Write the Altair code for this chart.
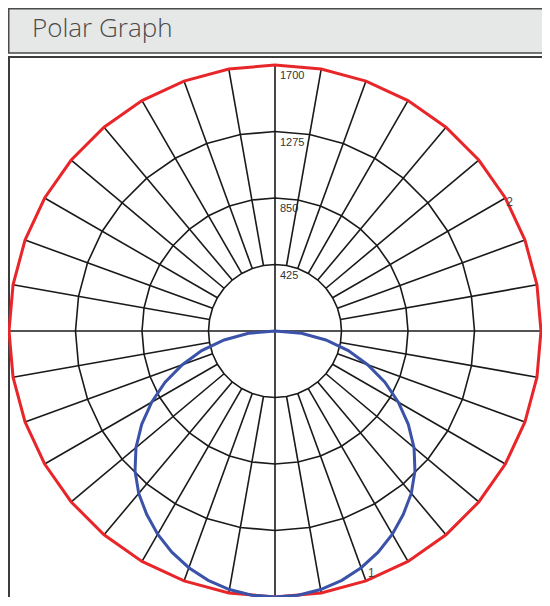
import altair as alt
import pandas as pd

# ---- data ----
ring_radii = [425, 850, 1275]
ring_angles = [0, 10, 20, 30, 40, 50, 60, 70, 80, 90, 100, 110, 120, 130, 140, 150, 160, 170, 180,
               190, 200, 210, 220, 230, 240, 250, 260, 270, 280, 290, 300, 310, 320, 330, 340, 350, 360]

spoke_angles = [0, 90, 10, 20, 30, 40, 50, 60, 70, 80, 100, 110, 120, 130, 140, 150, 160, 170,
                190, 200, 210, 220, 230, 240, 250, 260, 280, 290, 300, 310, 320, 330, 340, 350]
spoke_inner = [-1700, -1700] + [425] * 32
spoke_outer = [1700] * 34

# curve 2 (red) - gamma from nadir, cd values
red_gamma = ring_angles
red_values = [1700, 1700, 1700, 1700, 1700, 1700, 1700, 1700, 1700, 1700, 1700, 1700, 1700,
              1700, 1700, 1700, 1700, 1700, 1700, 1700, 1700, 1700, 1700, 1700, 1700, 1700,
              1700, 1700, 1700, 1700, 1700, 1700, 1700, 1700, 1700, 1700, 1700]

# curve 1 (blue)
blue_gamma = [-90, -85, -80, -75, -70, -65, -60, -55, -50, -45, -40, -35, -30, -25, -20, -15, -10, -5,
              0, 5, 10, 15, 20, 25, 30, 35, 40, 45, 50, 55, 60, 65, 70, 75, 80, 85, 90]
blue_values = [0, 170, 330, 485, 630, 775, 910, 1040, 1160, 1265, 1355, 1430, 1500, 1560, 1610, 1650, 1678, 1695,
               1700, 1695, 1678, 1650, 1610, 1560, 1500, 1430, 1355, 1265, 1160, 1040, 910, 775, 630, 485, 330, 170, 0]

tick_values = [425, 850, 1275, 1700]
tick_labels = ["425", "850", "1275", "1700"]

curve_labels = ["1", "2"]
curve_label_gamma = [20, 120]

# ---- tables ----
rings_df = pd.DataFrame([{"ring": r, "a": a, "r": r} for r in ring_radii for a in ring_angles])
spokes_df = pd.DataFrame({"a": spoke_angles, "r0": spoke_inner, "r1": spoke_outer})
red_df = pd.DataFrame({"a": red_gamma, "r": red_values})
blue_df = pd.DataFrame({"a": blue_gamma, "r": blue_values})
ticks_df = pd.DataFrame({"r": tick_values, "label": tick_labels})
lab_df = pd.DataFrame({"a": curve_label_gamma, "label": curve_labels})
one_df = pd.DataFrame({"k": [0]})

sc = alt.Scale(domain=[-1700, 1700], nice=False, zero=False)
X = alt.X("x:Q", scale=sc, axis=None)
Y = alt.Y("y:Q", scale=sc, axis=None)
XY_CALC = dict(x="datum.r*sin(datum.a*PI/180)", y="-datum.r*cos(datum.a*PI/180)")

frame = alt.Chart(one_df).mark_rect(fill="white", stroke="#3c3c3c", strokeWidth=2).encode(
    x=alt.value(0), x2=alt.value(620), y=alt.value(-8), y2=alt.value(620))
title_box = alt.Chart(one_df).mark_rect(fill="#e6e7e7", stroke="#4a4a4a", strokeWidth=1.5).encode(
    x=alt.value(-0.25), x2=alt.value(620), y=alt.value(-56.25), y2=alt.value(-12))
title_txt = alt.Chart(one_df).mark_text(text="Polar Graph", font="Open Sans", fontWeight=300,
                                        fontSize=26, color="#4a4a4a", align="left",
                                        baseline="alphabetic").encode(
    x=alt.value(23), y=alt.value(-28))

rings = alt.Chart(rings_df).transform_calculate(**XY_CALC).mark_line(
    color="#1a1a1a", strokeWidth=1.6).encode(x=X, y=Y, detail="ring:N", order="a:Q")

spokes = alt.Chart(spokes_df).transform_calculate(
    x="datum.r0*sin(datum.a*PI/180)", y="-datum.r0*cos(datum.a*PI/180)",
    x2="datum.r1*sin(datum.a*PI/180)", y2="-datum.r1*cos(datum.a*PI/180)"
).mark_rule(color="#1a1a1a", strokeWidth=1.6).encode(x=X, y=Y, x2="x2:Q", y2="y2:Q")

red = alt.Chart(red_df).transform_calculate(**XY_CALC).mark_line(
    color="#e8262a", strokeWidth=3).encode(x=X, y=Y, order="a:Q")
blue = alt.Chart(blue_df).transform_calculate(**XY_CALC).mark_line(
    color="#3a52a8", strokeWidth=3).encode(x=X, y=Y, order="a:Q")

ticks = alt.Chart(ticks_df).transform_calculate(x="0", y="datum.r").mark_text(
    font="Liberation Sans", fontSize=11, color="#333333", align="left", baseline="top",
    dx=5, dy=5).encode(x=X, y=Y, text="label:N")

lab1 = alt.Chart(lab_df).transform_filter("datum.label == '1'").transform_calculate(
    r="1700", **XY_CALC).mark_text(font="Liberation Sans", fontSize=12, color="#444444",
                                   align="left", baseline="bottom", dx=2, dy=-1).encode(
    x=X, y=Y, text="label:N")
lab2 = alt.Chart(lab_df).transform_filter("datum.label == '2'").transform_calculate(
    r="1700", **XY_CALC).mark_text(font="Liberation Sans", fontSize=12, color="#444444",
                                   align="left", baseline="top", dx=1, dy=-1).encode(
    x=X, y=Y, text="label:N")

chart = alt.layer(frame, title_box, title_txt, rings, spokes, red, blue, ticks, lab1, lab2).properties(
    width=532, height=532,
    autosize=alt.AutoSizeParams(type="none"),
    padding={"left": 1, "top": 57, "right": 1, "bottom": 0},
).configure_view(stroke=None)

chart.save("out.html", embed_options={"renderer": "svg", "actions": False})
